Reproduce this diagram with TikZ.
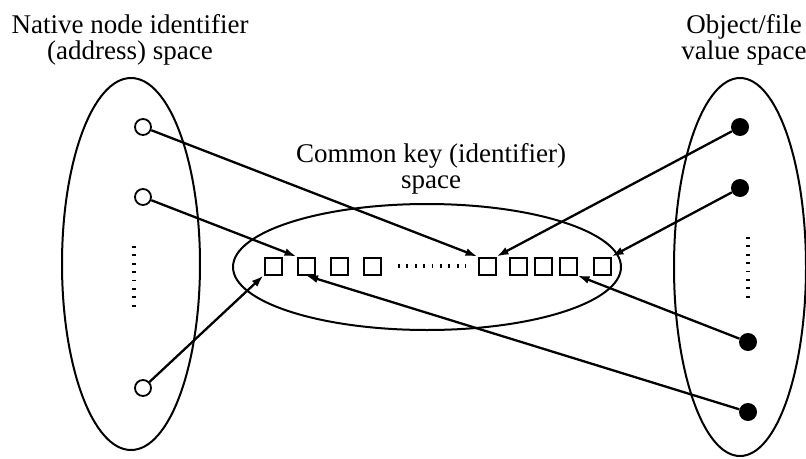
\documentclass[tikz,border=0pt]{standalone}
\usepackage{fontspec}
\setmainfont{Liberation Serif}
\usetikzlibrary{arrows.meta}
\begin{document}
\begin{tikzpicture}[x=1pt,y=-1pt,
  lbl/.style={font=\fontsize{27}{26}\selectfont, align=center, inner sep=0pt, anchor=base},
  space/.style={draw, line width=2pt},
  opennode/.style={circle, draw, line width=1.8pt, minimum size=16pt, inner sep=0pt},
  fullnode/.style={circle, fill, minimum size=18pt, inner sep=0pt},
  keybox/.style={rectangle, draw, line width=2pt, minimum size=17pt, inner sep=0pt},
  link/.style={line width=2.3pt, -{Latex[length=12pt,width=8pt]}},
  dots/.style={line width=3.2pt, dash pattern=on 1.8pt off 6.6pt}
]
\useasboundingbox (0,0) rectangle (806,458);
% spaces
\draw[space] (131,264) ellipse [x radius=69, y radius=186];
\draw[space] (740,267) ellipse [x radius=66, y radius=189];
\draw[space] (427,267) ellipse [x radius=194, y radius=63];
% labels
\node[lbl] (tl) at (130,59) {Native node identifier\\(address) space};
\node[lbl] (tr) at (744,59) {Object/file\\value space};
\node[lbl] (tm) at (431,188) {Common key (identifier)\\space};
% native nodes
\node[opennode] (c1) at (143,127) {};
\node[opennode] (c2) at (143,197) {};
\node[opennode] (c3) at (143,388) {};
% objects
\node[fullnode] (d1) at (740,127) {};
\node[fullnode] (d2) at (740,188) {};
\node[fullnode] (d3) at (748,342) {};
\node[fullnode] (d4) at (748,412) {};
% keys
\node[keybox] (s1) at (273,266) {};
\node[keybox] (s2) at (306,266) {};
\node[keybox] (s3) at (339,266) {};
\node[keybox] (s4) at (372,266) {};
\node[keybox] (s5) at (487,266) {};
\node[keybox] (s6) at (518,266) {};
\node[keybox] (s7) at (543,266) {};
\node[keybox] (s8) at (568,266) {};
\node[keybox] (s9) at (602,266) {};
% ellipsis dots
\coordinate (m1) at (398,266);
\coordinate (m2) at (466,266);
\draw[dots] (m1) -- (m2);
\coordinate (l1) at (134,246);
\coordinate (l2) at (134,312);
\draw[dots] (l1) -- (l2);
\coordinate (r1) at (748,237);
\coordinate (r2) at (748,303);
\draw[dots] (r1) -- (r2);
% links
\draw[link] (c1) -- (s5.north west);
\draw[link] (c2) -- (s2.north west);
\draw[link] (c3) -- (s1.south west);
\draw[link] (d1) -- (s5.north east);
\draw[link] (d2) -- (s9.north east);
\draw[link] (d3) -- (s8.south east);
\draw[link] (d4) -- (s2.south);
\end{tikzpicture}
\end{document}
